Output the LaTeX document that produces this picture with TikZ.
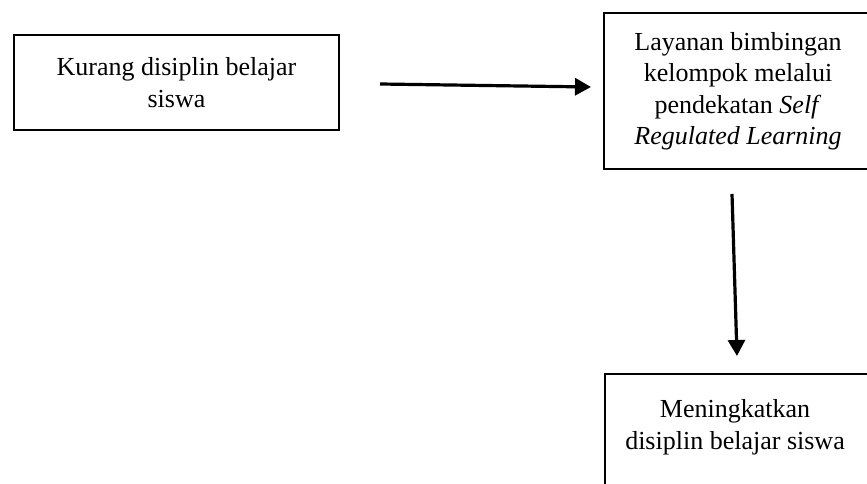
\documentclass[tikz,border=0pt]{standalone}
\usepackage{fontspec}
\setmainfont{Liberation Serif}
\usetikzlibrary{arrows.meta}
\begin{document}
\begin{tikzpicture}[x=1pt,y=-1pt,
  boxstyle/.style={draw=black, line width=1.8pt, rectangle, inner sep=0pt, align=center,
    font=\fontsize{26}{32}\selectfont},
  txtstyle/.style={inner sep=0pt, align=center, font=\fontsize{26}{31.5}\selectfont},
  arrowstyle/.style={line width=3.2pt, -{Triangle[length=16pt,width=17pt]}}]
\useasboundingbox (0,0) rectangle (867,484);
\clip (0,0) rectangle (867,484);
\fill[white] (0,0) rectangle (867,484);
\node[boxstyle, minimum width=325, minimum height=95] (b1) at (176.5,82.5)
  {Kurang disiplin belajar\\siswa};
\node[boxstyle, minimum width=280, minimum height=156, anchor=north west] (b2) at (603,12) {};
\node[txtstyle] (t2) at (738,91)
  {Layanan bimbingan\\kelompok melalui\\pendekatan \textit{Self}\\\textit{Regulated Learning}};
\node[boxstyle, minimum width=280, minimum height=160, anchor=north west] (b3) at (604,373) {};
\node[txtstyle] (t3) at (735,427) {Meningkatkan\\disiplin belajar siswa};
\coordinate (a1s) at (380,84);
\coordinate (a1e) at (591,87);
\coordinate (a2s) at (732,194);
\coordinate (a2e) at (737,356);
\draw[arrowstyle] (a1s) -- (a1e);
\draw[arrowstyle] (a2s) -- (a2e);
\end{tikzpicture}
\end{document}
